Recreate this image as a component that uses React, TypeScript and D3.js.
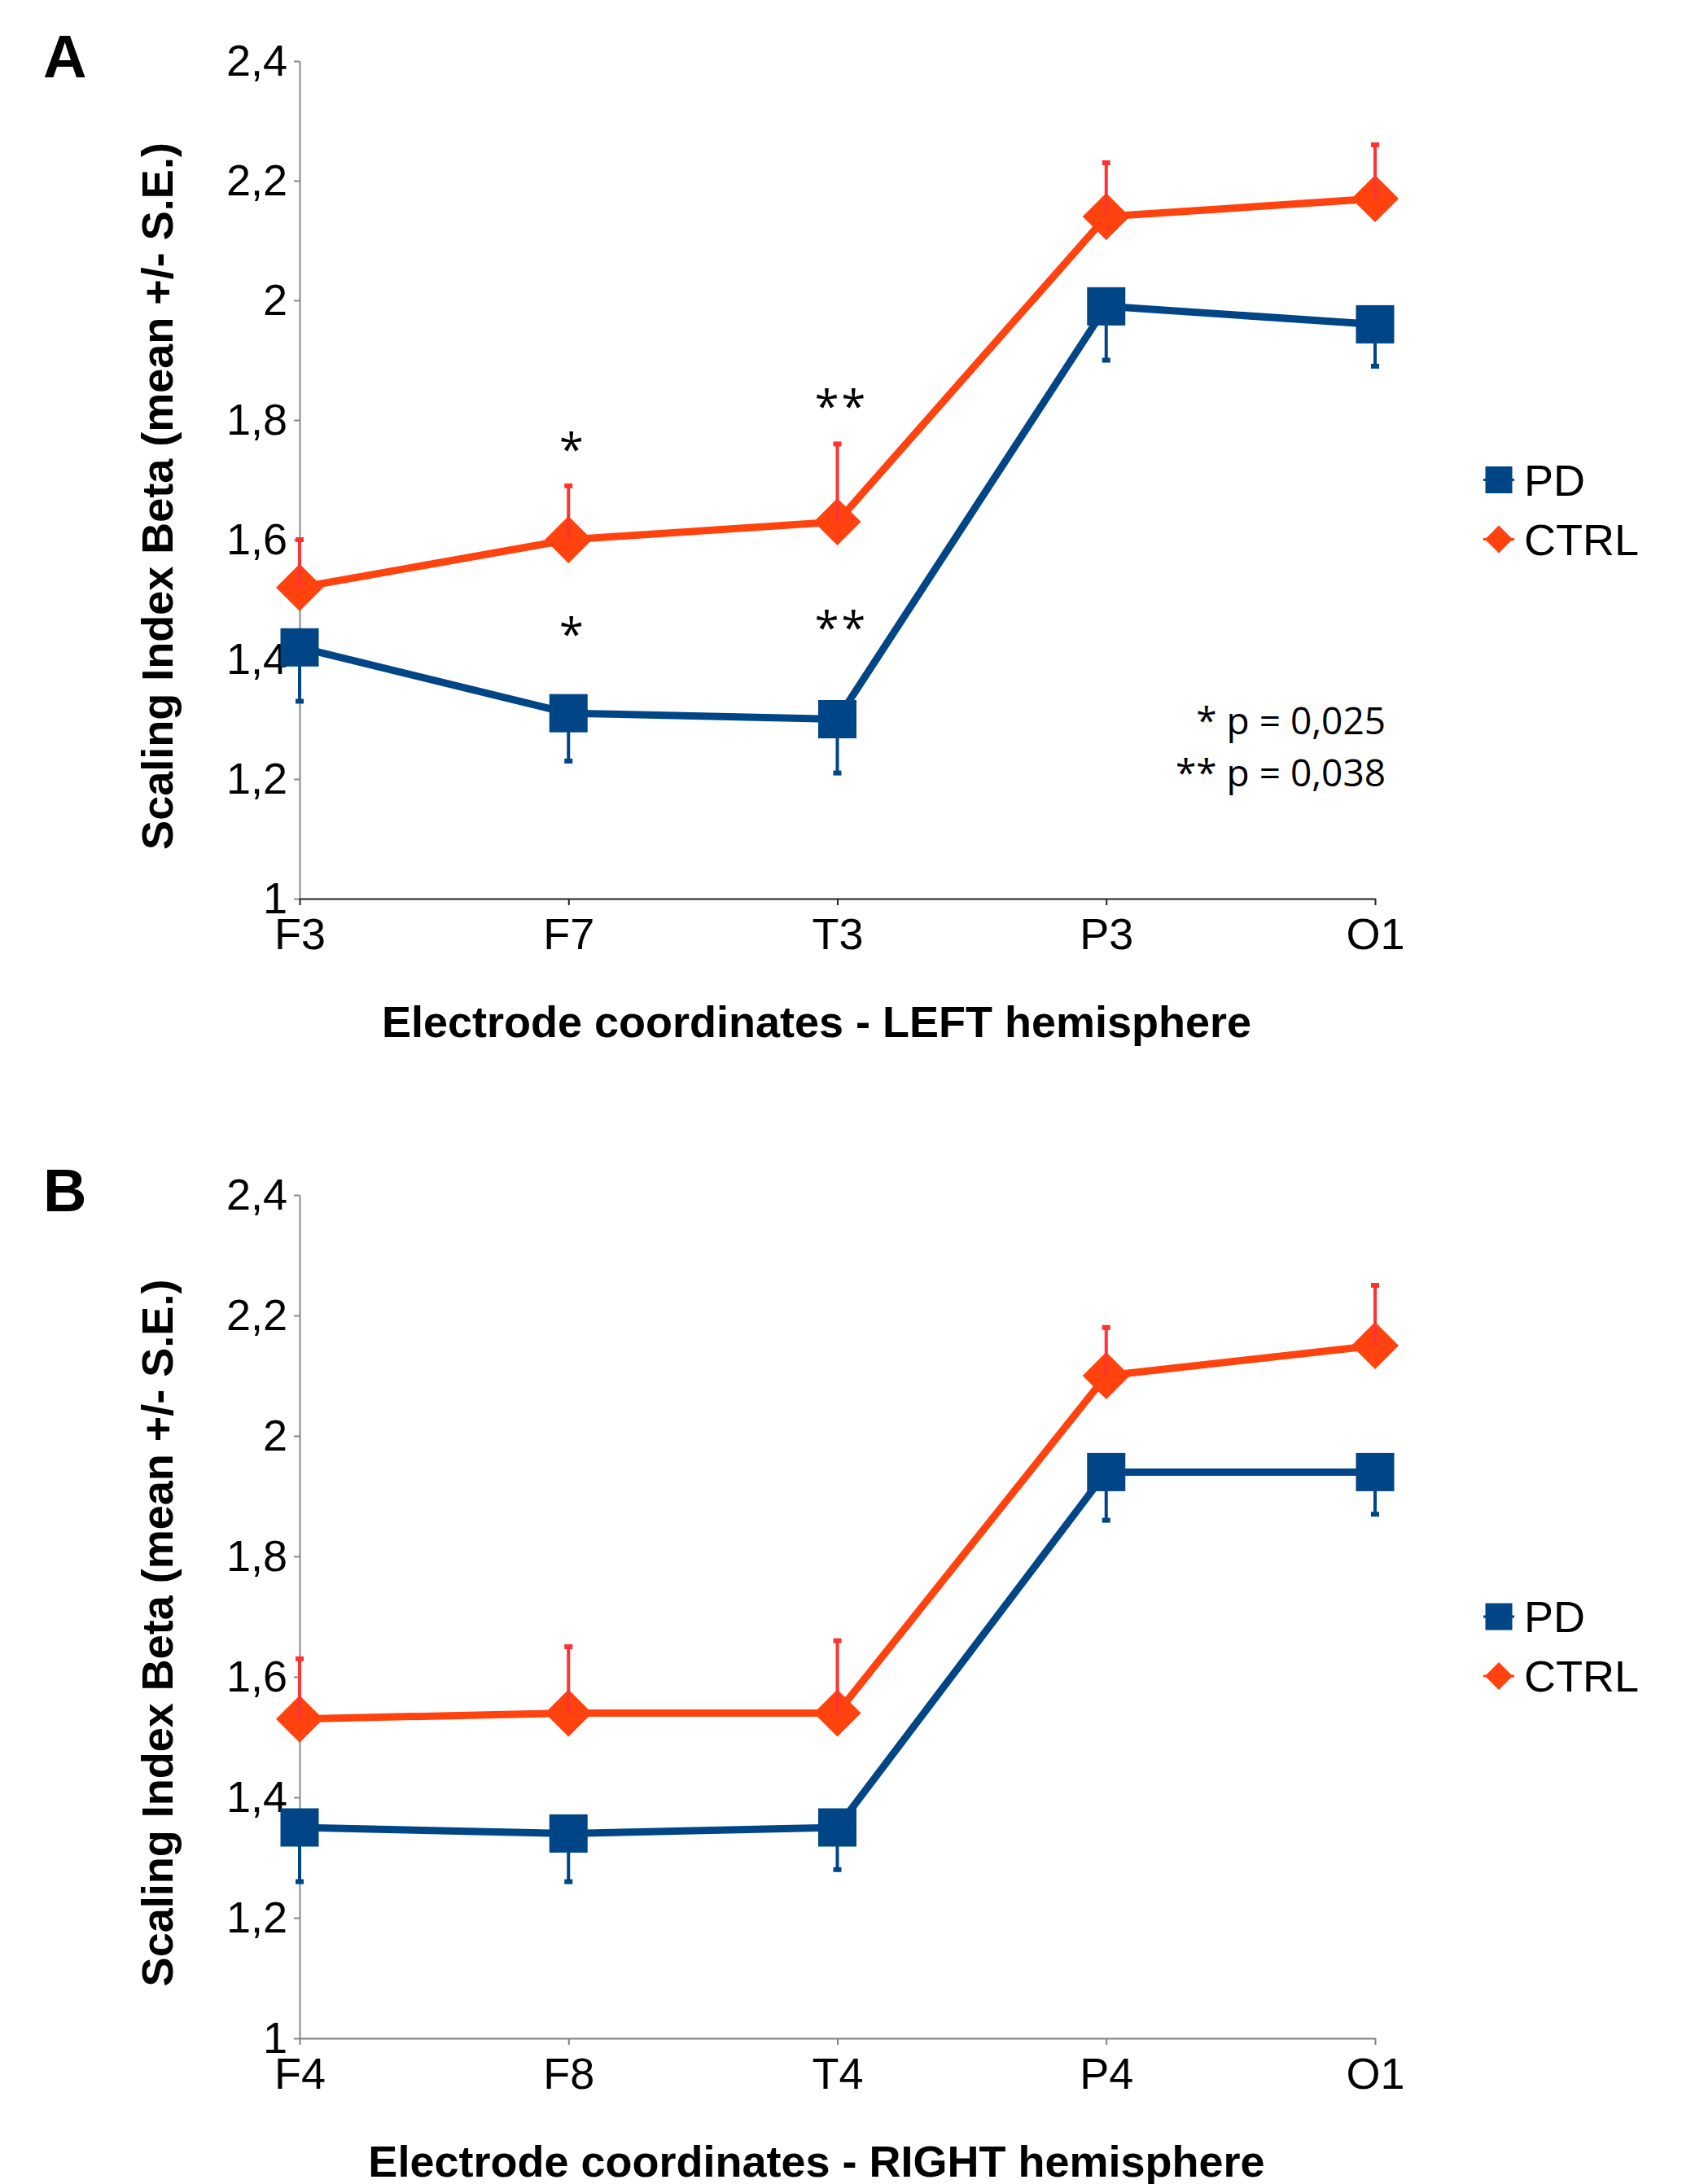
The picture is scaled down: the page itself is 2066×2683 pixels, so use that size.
import * as d3 from 'd3';
import { useEffect, useRef } from 'react';

// electrode positions, left and right hemisphere
const categoriesA = ['F3', 'F7', 'T3', 'P3', 'O1'];
const categoriesB = ['F4', 'F8', 'T4', 'P4', 'O1'];

// scaling index beta, mean and the drawn end of the S.E. bar
const pdMeanA = [1.42, 1.31, 1.30, 1.99, 1.96];
const pdLowA = [1.33, 1.23, 1.21, 1.90, 1.89];
const ctrlMeanA = [1.52, 1.60, 1.63, 2.14, 2.17];
const ctrlHighA = [1.60, 1.69, 1.76, 2.23, 2.26];

const pdMeanB = [1.35, 1.34, 1.35, 1.94, 1.94];
const pdLowB = [1.26, 1.26, 1.28, 1.86, 1.87];
const ctrlMeanB = [1.53, 1.54, 1.54, 2.10, 2.15];
const ctrlHighB = [1.63, 1.65, 1.66, 2.18, 2.25];

const yTicks = [1, 1.2, 1.4, 1.6, 1.8, 2, 2.2, 2.4];
const seriesNames = ['PD', 'CTRL'];

const starsA = [
  { cat: 'F7', value: 1.763, label: '*' },
  { cat: 'F7', value: 1.455, label: '*' },
  { cat: 'T3', value: 1.836, label: '**' },
  { cat: 'T3', value: 1.465, label: '**' },
];
const pNotes = ['* p = 0,025', '** p = 0,038'];

const PD_COLOR = '#004586';
const CTRL_COLOR = '#ff420e';
const CTRL_BAR = '#ff3333';
const ARIAL = 'Liberation Sans, Arial, sans-serif';
const NOTE_FONT = 'Open Sans, Noto Sans, sans-serif';

const X0 = 368;
const X1 = 1689;

const diamond = (cx, cy, r) =>
  `M${cx},${cy - r}L${cx + r},${cy}L${cx},${cy + r}L${cx - r},${cy}Z`;

function drawPanel(svg, cfg) {
  const x = d3.scalePoint().domain(cfg.categories).range([X0, X1]);
  const y = d3.scaleLinear().domain([1, 2.4]).range([cfg.bottom, cfg.top]);
  const g = svg.append('g');

  // panel letter
  g.append('text')
    .attr('x', 53)
    .attr('y', cfg.top + 20)
    .attr('font-family', ARIAL)
    .attr('font-weight', 'bold')
    .attr('font-size', 74)
    .text(cfg.letter);

  // y axis
  const yAxis = g.append('g')
    .attr('transform', `translate(${X0},0)`)
    .call(d3.axisLeft(y).tickValues(yTicks).tickSize(7).tickSizeOuter(0).tickPadding(8)
      .tickFormat(d => String(d).replace('.', ',')));
  yAxis.attr('font-family', null).attr('font-size', null);
  yAxis.select('.domain').attr('stroke', '#888').attr('stroke-width', 2);
  yAxis.selectAll('.tick line').attr('stroke', '#888').attr('stroke-width', 2);
  yAxis.selectAll('text')
    .attr('font-family', ARIAL)
    .attr('font-size', 54)
    .attr('fill', '#000');

  // x axis
  const xAxis = g.append('g')
    .attr('transform', `translate(0,${cfg.bottom})`)
    .call(d3.axisBottom(x).tickSize(8).tickSizeOuter(0));
  xAxis.attr('font-family', null).attr('font-size', null);
  xAxis.select('.domain').attr('stroke', cfg.axisColor).attr('stroke-width', 2);
  xAxis.selectAll('.tick line').attr('stroke', cfg.axisColor).attr('stroke-width', 2);
  xAxis.selectAll('text')
    .attr('y', 24)
    .attr('font-family', ARIAL)
    .attr('font-size', 54)
    .attr('fill', '#000');

  // axis titles
  g.append('text')
    .attr('x', 1003)
    .attr('y', cfg.bottom + 170)
    .attr('text-anchor', 'middle')
    .attr('font-family', ARIAL)
    .attr('font-weight', 'bold')
    .attr('font-size', 54)
    .text(cfg.xTitle);

  g.append('text')
    .attr('transform', `translate(212,${(cfg.top + cfg.bottom) / 2 + 20}) rotate(-90)`)
    .attr('text-anchor', 'middle')
    .attr('font-family', ARIAL)
    .attr('font-weight', 'bold')
    .attr('font-size', 54)
    .text('Scaling Index Beta (mean +/- S.E.)');

  const line = d3.line().x(d => x(d.cat)).y(d => y(d.v));
  const pd = cfg.categories.map((c, i) => ({ cat: c, v: cfg.pdMean[i], e: cfg.pdLow[i] }));
  const ctrl = cfg.categories.map((c, i) => ({ cat: c, v: cfg.ctrlMean[i], e: cfg.ctrlHigh[i] }));

  // PD series
  g.append('path')
    .datum(pd)
    .attr('d', line)
    .attr('fill', 'none')
    .attr('stroke', PD_COLOR)
    .attr('stroke-width', 9)
    .attr('stroke-linejoin', 'round');
  g.selectAll('.pd-bar')
    .data(pd)
    .enter()
    .append('line')
    .attr('x1', d => x(d.cat))
    .attr('x2', d => x(d.cat))
    .attr('y1', d => y(d.v))
    .attr('y2', d => y(d.e))
    .attr('stroke', PD_COLOR)
    .attr('stroke-width', 4);
  g.selectAll('.pd-cap')
    .data(pd)
    .enter()
    .append('rect')
    .attr('x', d => x(d.cat) - 5)
    .attr('y', d => y(d.e) - 3)
    .attr('width', 10)
    .attr('height', 6)
    .attr('fill', PD_COLOR);
  g.selectAll('.pd-mark')
    .data(pd)
    .enter()
    .append('rect')
    .attr('x', d => x(d.cat) - 23.5)
    .attr('y', d => y(d.v) - 23.5)
    .attr('width', 47)
    .attr('height', 47)
    .attr('fill', PD_COLOR);

  // CTRL series
  g.append('path')
    .datum(ctrl)
    .attr('d', line)
    .attr('fill', 'none')
    .attr('stroke', CTRL_COLOR)
    .attr('stroke-width', 9)
    .attr('stroke-linejoin', 'round');
  g.selectAll('.ctrl-mark')
    .data(ctrl)
    .enter()
    .append('path')
    .attr('d', d => diamond(x(d.cat), y(d.v), 29))
    .attr('fill', CTRL_COLOR);
  g.selectAll('.ctrl-bar')
    .data(ctrl)
    .enter()
    .append('line')
    .attr('x1', d => x(d.cat))
    .attr('x2', d => x(d.cat))
    .attr('y1', d => y(d.v))
    .attr('y2', d => y(d.e))
    .attr('stroke', CTRL_BAR)
    .attr('stroke-width', 4);
  g.selectAll('.ctrl-cap')
    .data(ctrl)
    .enter()
    .append('rect')
    .attr('x', d => x(d.cat) - 5)
    .attr('y', d => y(d.e) - 3)
    .attr('width', 10)
    .attr('height', 6)
    .attr('fill', CTRL_BAR);

  // legend
  const mid = (cfg.top + cfg.bottom) / 2;
  const leg = g.append('g').attr('transform', `translate(1841,${mid})`);
  leg.append('line').attr('x1', -19).attr('x2', 19).attr('y1', 0).attr('y2', 0)
    .attr('stroke', PD_COLOR).attr('stroke-width', 3);
  leg.append('rect').attr('x', -16.5).attr('y', -16.5).attr('width', 33).attr('height', 33)
    .attr('fill', PD_COLOR);
  leg.append('line').attr('x1', -19).attr('x2', 19).attr('y1', 73).attr('y2', 73)
    .attr('stroke', CTRL_COLOR).attr('stroke-width', 3);
  leg.append('path').attr('d', diamond(0, 73, 17)).attr('fill', CTRL_COLOR);
  leg.selectAll('.leg-text')
    .data(seriesNames)
    .enter()
    .append('text')
    .attr('x', 31)
    .attr('y', (d, i) => 19 + i * 73)
    .attr('font-family', ARIAL)
    .attr('font-size', 54)
    .text(d => d);

  return { x, y, g };
}

const App = () => {
  const svgRef = useRef(null);

  useEffect(() => {
    const svg = d3.select(svgRef.current);
    svg.selectAll('*').remove();

    const a = drawPanel(svg, {
      letter: 'A',
      categories: categoriesA,
      pdMean: pdMeanA, pdLow: pdLowA, ctrlMean: ctrlMeanA, ctrlHigh: ctrlHighA,
      top: 75, bottom: 1104,
      axisColor: '#222',
      xTitle: 'Electrode coordinates - LEFT hemisphere',
    });
    drawPanel(svg, {
      letter: 'B',
      categories: categoriesB,
      pdMean: pdMeanB, pdLow: pdLowB, ctrlMean: ctrlMeanB, ctrlHigh: ctrlHighB,
      top: 1468, bottom: 2504,
      axisColor: '#808080',
      xTitle: 'Electrode coordinates - RIGHT hemisphere',
    });

    // significance marks on panel A
    a.g.selectAll('.star')
      .data(starsA)
      .enter()
      .append('text')
      .attr('x', d => a.x(d.cat) + 5)
      .attr('y', d => a.y(d.value) + 29)
      .attr('text-anchor', 'middle')
      .attr('font-family', NOTE_FONT)
      .attr('font-size', 54)
      .attr('letter-spacing', 3)
      .text(d => d.label);
    a.g.selectAll('.pnote')
      .data(pNotes)
      .enter()
      .append('text')
      .attr('x', 1702)
      .attr('y', (d, i) => 902 + i * 64)
      .attr('text-anchor', 'end')
      .attr('font-family', NOTE_FONT)
      .attr('font-size', 46)
      .text(d => d);
  }, []);

  return (
    <svg
      ref={svgRef}
      width={2066}
      height={2683}
      style={{ position: 'absolute', left: 0, top: 0, background: '#fff' }}
    ></svg>
  );
};

export default App;
